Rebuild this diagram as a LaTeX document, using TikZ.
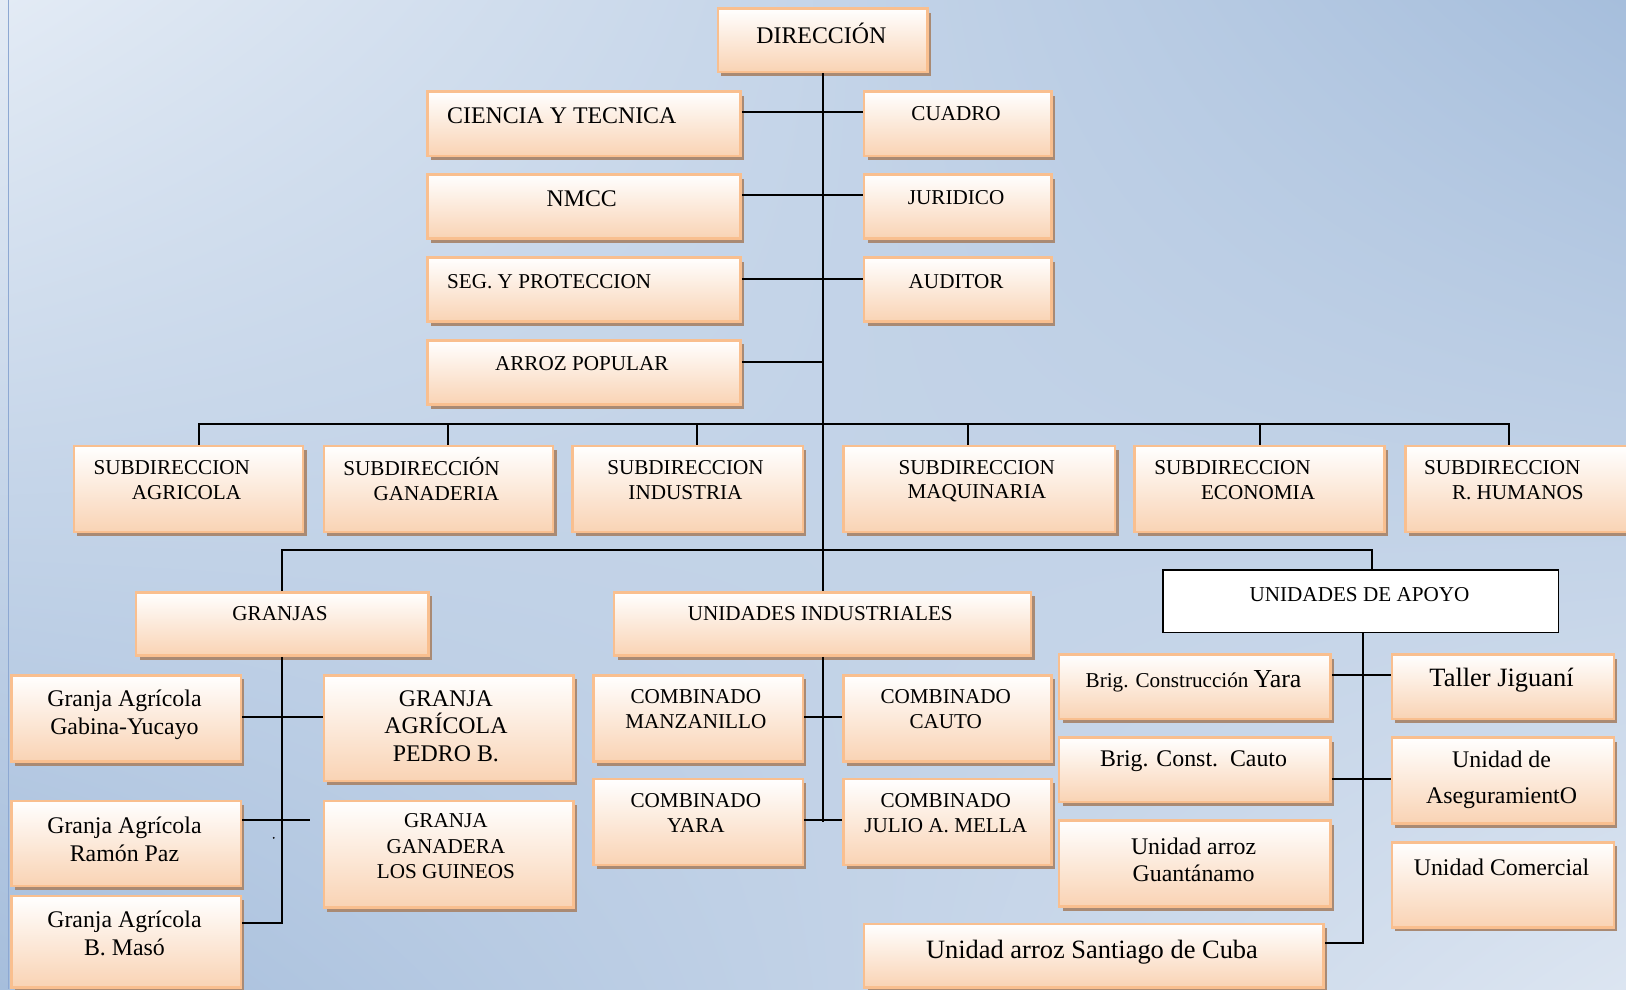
\documentclass[tikz,border=0pt]{standalone}
\usepackage{fontspec}
\setmainfont{Liberation Serif}
\usetikzlibrary{shadows,shadings,calc}
\definecolor{bgA}{HTML}{E3EBF5}
\definecolor{bgB}{HTML}{A6BEDC}
\definecolor{bgC}{HTML}{DCE5F1}
\definecolor{peach}{HTML}{F9BF8F}
\definecolor{peachfill}{HTML}{F9D3B4}
\definecolor{shadowc}{HTML}{A98A74}
\definecolor{edgec}{HTML}{8DA8D2}
\tikzset{
  pbox/.style={draw=peach, line width=2.4pt, top color=white, bottom color=peachfill,
    drop shadow={shadow xshift=3.5pt, shadow yshift=-4pt, fill=shadowc, opacity=1},
    inner sep=0pt, anchor=north west},
  wbox/.style={draw=black, line width=1.8pt, fill=white, inner sep=0pt, anchor=north west},
  conn/.style={draw=black, line width=1.9pt},
  txt/.style={inner sep=0pt, align=center, font=\fontsize{20.4}{24}\selectfont},
  big/.style={font=\fontsize{23}{27}\selectfont},
}
\newcommand\bx[6][pbox]{\node[#1, minimum width={#5-#3}, minimum height={#6-#4}] (#2) at (#3,#4) {};}
\begin{document}
\begin{tikzpicture}[x=1pt,y=-1pt]
\useasboundingbox (0,0) rectangle (1568,954);
\clip (0,0) rectangle (1568,954);
\shade[shading=bilinear interpolation, upper left=bgA, upper right=bgB, lower left=bgB, lower right=bgC] (0,0) rectangle (1568,954);
\draw[edgec, line width=1.5pt] (8,0) -- (8,954);
% boxes
\bx{dir}{691}{7}{893}{68}
\bx{cyt}{411}{87}{713}{149}
\bx{cua}{832}{87}{1013}{149}
\bx{nm}{411}{167}{713}{229}
\bx{jur}{832}{167}{1013}{229}
\bx{seg}{411}{247}{713}{309}
\bx{aud}{832}{247}{1013}{309}
\bx{arr}{411}{327}{713}{389}
\bx{sa}{70}{429}{291}{512}
\bx{sg}{311}{429}{532}{512}
\bx{si}{551}{429}{773}{512}
\bx{sm}{812}{429}{1074}{512}
\bx{se}{1093}{429}{1334}{512}
\bx{srh}{1354}{429}{1575}{512}
\bx{gr}{130}{570}{412}{631}
\bx{ui}{591}{570}{993}{631}
\bx[wbox]{apoyo}{1121}{549}{1502}{609}
\bx{gy}{10}{650}{231}{733}
\bx{gp}{311}{650}{552}{752}
\bx{grp}{10}{771}{231}{853}
\bx{gg}{311}{771}{552}{874}
\bx{gm}{10}{863}{231}{951}
\bx{cm}{571}{650}{773}{733}
\bx{cc}{812}{650}{1013}{733}
\bx{cy}{571}{750}{773}{833}
\bx{cj}{812}{750}{1013}{833}
\bx{by}{1020}{630}{1282}{692}
\bx{tj}{1341}{630}{1555}{692}
\bx{bc}{1020}{710}{1282}{772}
\bx{ua}{1341}{710}{1555}{793}
\bx{ug}{1020}{790}{1282}{873}
\bx{uc}{1341}{811}{1555}{893}
\bx{us}{832}{890}{1275}{951}
% texts
\node[txt,big] (t-dir) at (792,32) {DIRECCIÓN};
\node[txt,big,anchor=west] (t-cyt) at (431,112) {CIENCIA Y TECNICA};
\node[txt] (t-cua) at (922,110) {CUADRO};
\node[txt,big] (t-nm) at (561,192) {NMCC};
\node[txt] (t-jur) at (922,191) {JURIDICO};
\node[txt,anchor=west] (t-seg) at (431,272) {SEG. Y PROTECCION};
\node[txt] (t-aud) at (922,272) {AUDITOR};
\node[txt] (t-arr) at (561,351) {ARROZ POPULAR};
\node[txt,align=left,anchor=west] (t-sa) at (90,463) {SUBDIRECCION\\\hspace*{37pt}AGRICOLA};
\node[txt,align=left,anchor=west] (t-sg) at (331,462) {SUBDIRECCIÓN\\\hspace*{29pt}GANADERIA};
\node[txt] (t-si) at (661,463) {SUBDIRECCION\\INDUSTRIA};
\node[txt] (t-sm) at (942,464) {SUBDIRECCION\\MAQUINARIA};
\node[txt,align=left,anchor=west] (t-se) at (1113,463) {SUBDIRECCION\\\hspace*{45pt}ECONOMIA};
\node[txt,align=left,anchor=west] (t-srh) at (1373,463) {SUBDIRECCION\\\hspace*{27pt}R. HUMANOS};
\node[txt] (t-gr) at (270,592) {GRANJAS};
\node[txt] (t-ui) at (791,592) {UNIDADES INDUSTRIALES};
\node[txt] (t-apoyo) at (1311,573) {UNIDADES DE APOYO};
\node[txt,big] (t-gy) at (120,689) {Granja Agrícola\\Gabina-Yucayo};
\node[txt,font=\fontsize{23}{26.5}\selectfont] (t-gp) at (430,700) {GRANJA\\AGRÍCOLA\\PEDRO B.};
\node[txt,big] (t-grp) at (120,809) {Granja Agrícola\\Ramón Paz};
\node[txt,font=\fontsize{20.4}{24.5}\selectfont] (t-gg) at (430,816) {GRANJA\\GANADERA\\LOS GUINEOS};
\node[txt,big] (t-gm) at (120,900) {Granja Agrícola\\B. Masó};
\node[txt] (t-cm) at (671,684) {COMBINADO\\MANZANILLO};
\node[txt] (t-cc) at (912,684) {COMBINADO\\CAUTO};
\node[txt] (t-cy) at (671,784) {COMBINADO\\YARA};
\node[txt] (t-cj) at (912,784) {COMBINADO\\JULIO A. MELLA};
\node[txt] (t-by) at (1151,657) {Brig. Construcción {\fontsize{25}{30}\selectfont Yara}};
\node[txt,font=\fontsize{25.5}{30}\selectfont] (t-tj) at (1448,656) {Taller Jiguaní};
\node[txt,big] (t-bc) at (1151,734) {Brig. Const.\ \ Cauto};
\node[txt,font=\fontsize{23}{34}\selectfont] (t-ua) at (1448,752) {Unidad de\\AseguramientO};
\node[txt,font=\fontsize{23}{26}\selectfont] (t-ug) at (1151,829) {Unidad arroz\\Guantánamo};
\node[txt,big] (t-uc) at (1448,836) {Unidad Comercial};
\node[txt,font=\fontsize{25.5}{30}\selectfont] (t-us) at (1053,918) {Unidad arroz Santiago de Cuba};
% connectors
\coordinate (bus1) at (792,409);
\coordinate (bus2) at (792,530);
\draw[conn] (dir.south) -- (ui.north);
\draw[conn] ([yshift=11pt]cyt.east) -- ([yshift=11pt]cua.west);
\draw[conn] ([yshift=11pt]nm.east) -- ([yshift=11pt]jur.west);
\draw[conn] ([yshift=10pt]seg.east) -- ([yshift=10pt]aud.west);
\draw[conn] ([yshift=10pt]arr.east) -- ([yshift=10pt]arr.east -| dir.south);
\draw[conn] ([xshift=10pt]sa.north) |- (bus1) -| ([xshift=-10.5pt]srh.north);
\draw[conn] ([xshift=9.5pt]sg.north) -- ([xshift=9.5pt]sg.north |- bus1);
\draw[conn] ([xshift=9pt]si.north) -- ([xshift=9pt]si.north |- bus1);
\draw[conn] ([xshift=-11pt]sm.north) -- ([xshift=-11pt]sm.north |- bus1);
\draw[conn] (se.north) -- (se.north |- bus1);
\draw[conn] (gr.north) |- (bus2) -| ([xshift=10.5pt]apoyo.north);
\draw[conn] (gr.south) |- ([yshift=18.5pt]gm.east);
\draw[conn] ([yshift=1.5pt]gy.east) -- ([yshift=1.5pt]gy.east -| gp.west);
\draw[conn] ([yshift=22pt]grp.east) -- ([xshift=-12pt,yshift=22pt]grp.east -| gg.west);
\fill (264,808) circle[radius=1];
\draw[conn] (ui.south) -- (ui.south |- cy.east);
\draw[conn] ([yshift=1.5pt]cm.east) -- ([yshift=1.5pt]cc.west);
\draw[conn] ([yshift=1.5pt]cy.east) -- ([yshift=1.5pt]cj.west);
\draw[conn] ([xshift=1.5pt]apoyo.south) |- ([yshift=12pt]us.east);
\draw[conn] ([yshift=11pt]by.east) -- ([yshift=11pt]by.east -| tj.west);
\draw[conn] ([yshift=-9pt]bc.east) -- ([yshift=-9pt]bc.east -| ua.west);
\end{tikzpicture}
\end{document}
